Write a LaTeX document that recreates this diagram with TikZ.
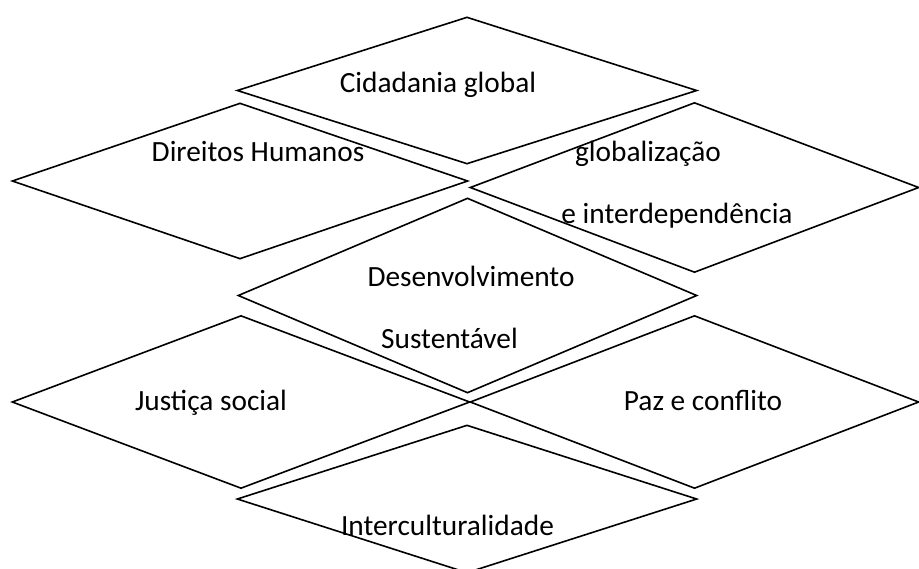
\documentclass[tikz,border=0pt]{standalone}
\usepackage{fontspec}
\setmainfont{Carlito}
\usepackage{tikz}
\usetikzlibrary{shapes.geometric}

\tikzset{
  tema/.style={draw, diamond, inner sep=0pt, line width=1.2pt},
  rotulo/.style={anchor=base, inner sep=0pt, font=\fontsize{22}{26}\selectfont}
}

\begin{document}
\begin{tikzpicture}[x=0.75pt, y=-0.75pt]
    \useasboundingbox (0,0) rectangle (919,568);
    % Losangos
    \node[tema, minimum width=345pt, minimum height=110.25pt] (cid) at (467,90.5) {};
    \node[tema, minimum width=342pt, minimum height=117pt] (dir) at (240,181) {};
    \node[tema, minimum width=336.75pt, minimum height=127.5pt] (glob) at (694.5,187.5) {};
    \node[tema, minimum width=344.25pt, minimum height=146.25pt] (des) at (467.5,295.5) {};
    \node[tema, minimum width=343.5pt, minimum height=129.75pt] (jus) at (241,402) {};
    \node[tema, minimum width=336.75pt, minimum height=129.75pt] (paz) at (694.5,402) {};
    \node[tema, minimum width=345pt, minimum height=111pt] (int) at (467,499) {};
    % Textos
    \node[rotulo] (cidtxt) at (438,92) {Cidadania global};
    \node[rotulo] (dirtxt) at (258,161) {Direitos Humanos};
    \node[rotulo] (globtxt) at (648,161) {globalização};
    \node[rotulo] (globtxtb) at (677,223) {e interdependência};
    \node[rotulo] (destxt) at (471,286) {Desenvolvimento};
    \node[rotulo] (destxtb) at (449.5,348) {Sustentável};
    \node[rotulo] (justxt) at (211,410) {Justiça social};
    \node[rotulo] (paztxt) at (703,410) {Paz e conflito};
    \node[rotulo] (inttxt) at (447.5,535) {Interculturalidade};
\end{tikzpicture}
\end{document}
